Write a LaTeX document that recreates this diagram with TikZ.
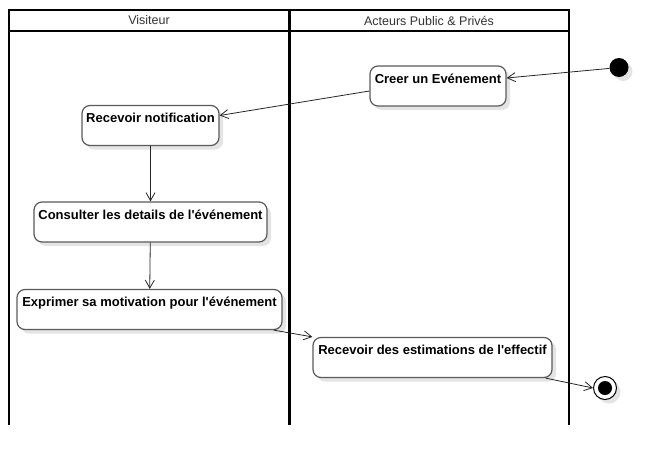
\documentclass[tikz,border=0pt]{standalone}
\usepackage{fontspec}
\setmainfont{Liberation Sans}
\usetikzlibrary{arrows.meta,shadows}
\definecolor{boxline}{HTML}{5A5A5A}
\definecolor{shade}{HTML}{E4E4E4}
\begin{document}
\begin{tikzpicture}[x=1pt,y=-1pt,
  act/.style={draw=boxline,line width=1.2pt,fill=white,rounded corners=8pt,
    font=\fontsize{13}{15}\selectfont\bfseries,minimum height=40pt,
    text height=12pt,text depth=18pt,inner ysep=5pt,inner xsep=2pt,
    drop shadow={shadow xshift=4pt,shadow yshift=-4pt,fill=shade,opacity=1}},
  flow/.style={draw=black!85,line width=0.8pt,-{Straight Barb[length=8pt,width=9pt]}},
  lane/.style={line width=2pt},
  head/.style={font=\fontsize{12.5}{14}\selectfont,text=black!80}]
\useasboundingbox (0,0) rectangle (669,466);
\draw[lane] (9,425) -- (9,10) -- (569,10) -- (569,425);
\draw[lane] (9,31) -- (569,31);
\draw[line width=3pt] (289,10) -- (289,425);
\node[head] (lv) at (149,20.5) {Visiteur};
\node[head] (la) at (429,20.5) {Acteurs Public \& Privés};
\node[circle,fill=black,minimum size=19pt,inner sep=0pt,
  drop shadow={shadow xshift=4pt,shadow yshift=-4pt,fill=shade,opacity=1}] (init) at (619,67.5) {};
\node[act,minimum width=136pt] (creer) at (438,86) {Creer un Evénement};
\node[act,minimum width=137pt] (notif) at (150.5,125.5) {Recevoir notification};
\node[act,minimum width=233pt] (consult) at (150.5,222) {Consulter les details de l\textquotesingle événement};
\node[act,minimum width=265pt] (exprim) at (149.5,309.5) {Exprimer sa motivation pour l\textquotesingle événement};
\node[act,minimum width=239pt] (estim) at (432.5,357.5) {Recevoir des estimations de l\textquotesingle effectif};
\node[circle,draw,line width=1pt,fill=white,minimum size=23pt,inner sep=0pt,
  drop shadow={shadow xshift=4pt,shadow yshift=-4pt,fill=shade,opacity=1}] (final) at (605,388) {};
\fill (final.center) circle (7pt);
\draw[flow] (init) -- ([yshift=8pt]creer.east);
\draw[flow] ([yshift=-5pt]creer.west) -- ([yshift=10pt]notif.east);
\draw[flow] (notif) -- (consult);
\draw[flow] (consult) -- (exprim);
\draw[flow] ([xshift=-9pt]exprim.south east) -- (estim.north west);
\draw[flow] ([xshift=-7pt]estim.south east) -- (final.west);
\end{tikzpicture}
\end{document}
